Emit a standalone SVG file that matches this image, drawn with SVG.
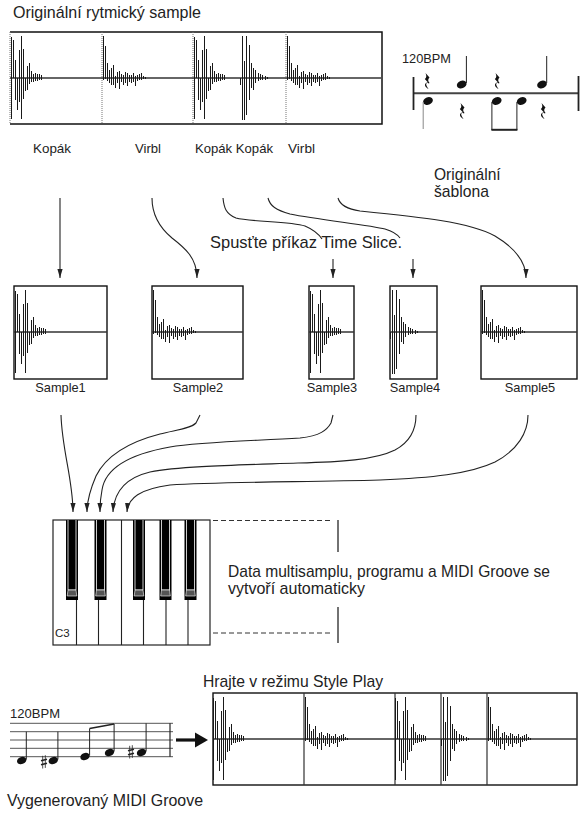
<svg xmlns="http://www.w3.org/2000/svg" xmlns:xlink="http://www.w3.org/1999/xlink" width="581" height="814" viewBox="0 0 581 814">
<style>
text{font-family:"Liberation Sans",Arial,sans-serif;fill:#222}
.t16{font-size:15.7px}
.t13{font-size:13.5px}
.t12{font-size:12.8px}
.wave{fill:none;stroke:#1a1a1a;stroke-width:1;shape-rendering:crispEdges}
.frame{fill:#fff;stroke:#111;stroke-width:1.4}
.mid{stroke:#333;stroke-width:1.4}
.dot{stroke:#777;stroke-width:1;stroke-dasharray:1 1;fill:none}
.con{fill:none;stroke:#222;stroke-width:1.1}
.stem{stroke:#222;stroke-width:1}
</style>
<defs>
<marker id="ah" markerUnits="userSpaceOnUse" markerWidth="10" markerHeight="7" refX="9" refY="3" orient="auto">
<path d="M0 0.4 L9 3 L0 5.6 Z" fill="#222"/>
</marker>
<path id="kickA" class="wave" d="M0.5 -41V41 M2.5 -38V0 M4.5 -18V22 M6.5 0V32 M8.5 -28V24 M10.5 -42V41 M12.5 -29V21 M14.5 0V13 M16.5 -12V12 M18.5 -15V6 M20.5 -7V4 M22.5 -4V4 M24.5 -5V3 M26.5 -4V3 M28.5 -4V2 M30.5 -3V2"/>
<path id="kickB" class="wave" d="M0.5 0V7 M2.5 -42V42 M4.5 -17V42 M6.5 -42V37 M9.5 -33V22 M11.5 -15V10 M13.5 -10V12 M15.5 -8V5 M18.5 -5V3 M20.5 -4V2 M22.5 -3V2 M25.5 -2V2 M27.5 -1V1"/>
<path id="snare" class="wave" d="M1.5 -42V2 M3.5 -32V1 M5.5 -15V3 M7.5 -8V5 M9.5 -10V7 M11.5 -13V7 M13.5 -2V10 M15.5 -6V5 M17.5 -7V11 M19.5 -4V4 M21.5 -3V7 M23.5 -6V5 M25.5 -5V8 M27.5 -3V4 M29.5 -3V5 M31.5 -5V4 M33.5 -2V8 M35.5 -3V3 M37.5 -4V2 M39.5 -5V2 M41.5 -2V1 M43.5 -1V1"/>
<path id="rest" fill="#111" d="M1.5 0 L5.5 4.5 C4 6 3.5 7.5 5.5 10 L4.8 10.5 C3 9.5 1.5 10 2.5 12.5 C3 14 4 15 4.5 16 C2 14.5 0 12.5 1.5 10.5 C2.2 9.5 3.2 9.3 4 9.6 L0.8 6 C2.5 4.8 2.8 3.2 1.5 0 Z"/>
<g id="sharp" stroke="#222" fill="none">
<path d="M-1.3 -6.2V6.5 M1.3 -6.8V5.9" stroke-width="0.8"/>
<path d="M-3 -1.2 L3 -2.8 M-3 2.8 L3 1.2" stroke-width="1.7"/>
</g>
<g id="bk">
<rect x="0" y="0" width="12" height="80" fill="#000"/>
<path d="M2 0 V70 H10 V0" fill="none" stroke="#fff" stroke-width="0.8"/>
<path d="M2 70 L1.2 76 H10.8 L10 70 Z" fill="#555" stroke="#fff" stroke-width="0.6"/>
</g>
</defs>

<rect width="581" height="814" fill="#fff"/>

<g id="original-sample">
<text class="t16" x="13" y="18" textLength="188" lengthAdjust="spacingAndGlyphs">Originální rytmický sample</text>
<rect x="10" y="32" width="372" height="92" fill="#fff"/>
<path d="M10 32 H382 V124 H10" fill="none" stroke="#111" stroke-width="1.5"/>
<path class="dot" d="M10 32 V124 M102 32 V124 M193 32 V124 M286 32 V124"/>
<line class="mid" x1="10" y1="78" x2="381" y2="78"/>
<use xlink:href="#kickA" x="11" y="78"/>
<use xlink:href="#snare" x="102" y="78"/>
<use xlink:href="#kickA" x="194" y="78"/>
<use xlink:href="#kickB" x="240" y="78"/>
<use xlink:href="#snare" x="286" y="78"/>
<text class="t13" x="33" y="152.5" textLength="38" lengthAdjust="spacingAndGlyphs">Kopák</text>
<text class="t13" x="135" y="152.5" textLength="26" lengthAdjust="spacingAndGlyphs">Virbl</text>
<text class="t13" x="195" y="152.5" textLength="78" lengthAdjust="spacingAndGlyphs">Kopák Kopák</text>
<text class="t13" x="288" y="152.5" textLength="27" lengthAdjust="spacingAndGlyphs">Virbl</text>
</g>

<g id="original-pattern">
<text class="t12" x="402" y="63" textLength="49" lengthAdjust="spacingAndGlyphs">120BPM</text>
<line x1="413" y1="93.3" x2="579" y2="93.3" stroke="#444" stroke-width="2"/>
<line x1="413.5" y1="77" x2="413.5" y2="110" stroke="#222" stroke-width="1.8"/>
<line x1="578.5" y1="76" x2="578.5" y2="111" stroke="#222" stroke-width="1.8"/>
<use xlink:href="#rest" x="424" y="73"/>
<use xlink:href="#rest" x="494" y="73"/>
<use xlink:href="#rest" x="459" y="103"/>
<use xlink:href="#rest" x="540" y="103"/>
<ellipse cx="461.7" cy="84.5" rx="5" ry="3.7" transform="rotate(-20 461.7 84.5)" fill="#111"/>
<line class="stem" x1="466.4" y1="83" x2="466.4" y2="56"/>
<ellipse cx="542" cy="84.5" rx="5" ry="3.7" transform="rotate(-20 542 84.5)" fill="#111"/>
<line class="stem" x1="546.7" y1="83" x2="546.7" y2="56"/>
<ellipse cx="428" cy="101" rx="5" ry="3.7" transform="rotate(-20 428 101)" fill="#111"/>
<line x1="423.2" y1="102" x2="423.2" y2="129" stroke="#888" stroke-width="1"/>
<ellipse cx="496.7" cy="101" rx="5" ry="3.7" transform="rotate(-20 496.7 101)" fill="#111"/>
<ellipse cx="521.7" cy="101" rx="5" ry="3.7" transform="rotate(-20 521.7 101)" fill="#111"/>
<path d="M491.9 102 V130 M516.9 102 V130" stroke="#222" stroke-width="1"/>
<line x1="491.4" y1="129.8" x2="517.4" y2="129.8" stroke="#222" stroke-width="2"/>
<text class="t16" x="434" y="180" textLength="66.7" lengthAdjust="spacingAndGlyphs">Originální</text>
<text class="t16" x="434" y="197" textLength="55" lengthAdjust="spacingAndGlyphs">šablona</text>
</g>

<g id="time-slice-label">
<text class="t16" x="210" y="248" textLength="192" lengthAdjust="spacingAndGlyphs">Spusťte příkaz Time Slice.</text>
</g>

<g id="sample1">
<rect class="frame" x="14" y="286" width="93" height="93"/>
<line class="mid" x1="14" y1="332" x2="107" y2="332"/>
<use xlink:href="#kickA" x="15" y="332"/>
<text class="t12" x="60.5" y="392" text-anchor="middle">Sample1</text>
</g>
<g id="sample2">
<rect class="frame" x="152" y="286" width="91" height="93"/>
<line class="mid" x1="152" y1="332" x2="243" y2="332"/>
<use xlink:href="#snare" x="152" y="332"/>
<text class="t12" x="198" y="392" text-anchor="middle">Sample2</text>
</g>
<g id="sample3">
<rect class="frame" x="309" y="286" width="45" height="93"/>
<line class="mid" x1="309" y1="332" x2="354" y2="332"/>
<use xlink:href="#kickA" x="310" y="332"/>
<text class="t12" x="332" y="392" text-anchor="middle">Sample3</text>
</g>
<g id="sample4">
<rect class="frame" x="390" y="286" width="47" height="93"/>
<line class="mid" x1="390" y1="332" x2="437" y2="332"/>
<use xlink:href="#kickB" x="390" y="332"/>
<text class="t12" x="415" y="392" text-anchor="middle">Sample4</text>
</g>
<g id="sample5">
<rect class="frame" x="481" y="286" width="96" height="93"/>
<line class="mid" x1="481" y1="332" x2="577" y2="332"/>
<use xlink:href="#snare" x="481" y="332"/>
<text class="t12" x="530" y="392" text-anchor="middle">Sample5</text>
</g>

<g id="keyboard">
<rect x="53" y="520" width="157" height="125" fill="#fff" stroke="#222" stroke-width="1.2"/>
<path d="M76.5 520V645 M98.5 520V645 M121.5 520V645 M143.5 520V645 M166 520V645 M188 520V645" stroke="#222" stroke-width="1.1"/>
<use xlink:href="#bk" x="66" y="520"/>
<use xlink:href="#bk" x="94.5" y="520"/>
<use xlink:href="#bk" x="133" y="520"/>
<use xlink:href="#bk" x="159.5" y="520"/>
<use xlink:href="#bk" x="184.5" y="520"/>
<text x="55" y="636.5" font-size="11.5px">C3</text>
</g>

<g id="auto-info">
<path d="M213 520.5 H330 M213 633 H330" stroke="#333" stroke-width="1" stroke-dasharray="5 3" fill="none"/>
<path d="M338 520 V552 M338 607 V643" stroke="#444" stroke-width="1.5"/>
<text class="t16" x="228" y="577" textLength="322" lengthAdjust="spacingAndGlyphs">Data multisamplu, programu a MIDI Groove se</text>
<text class="t16" x="228" y="594" textLength="137" lengthAdjust="spacingAndGlyphs">vytvoří automaticky</text>
</g>

<g id="midi-groove">
<text class="t12" x="10" y="718" textLength="50" lengthAdjust="spacingAndGlyphs">120BPM</text>
<path d="M10 723.3 H173 M10 731.7 H173 M10 740 H173 M10 748.3 H173 M10 756.7 H173" stroke="#555" stroke-width="1"/>
<line x1="170" y1="723.3" x2="170" y2="756.7" stroke="#222" stroke-width="1.2"/>
<ellipse cx="21.7" cy="760.5" rx="4.8" ry="3.5" transform="rotate(-20 21.7 760.5)" fill="#111"/>
<line class="stem" x1="26.3" y1="759.5" x2="26.3" y2="731.7"/>
<use xlink:href="#sharp" x="44" y="762"/>
<ellipse cx="53.3" cy="760.5" rx="4.8" ry="3.5" transform="rotate(-20 53.3 760.5)" fill="#111"/>
<line class="stem" x1="57.9" y1="759.5" x2="57.9" y2="731.7"/>
<ellipse cx="85" cy="756.5" rx="4.8" ry="3.5" transform="rotate(-20 85 756.5)" fill="#111"/>
<line class="stem" x1="89.6" y1="755.5" x2="89.6" y2="728.5"/>
<ellipse cx="109.5" cy="752.5" rx="4.8" ry="3.5" transform="rotate(-20 109.5 752.5)" fill="#111"/>
<line class="stem" x1="114.1" y1="751.5" x2="114.1" y2="724"/>
<line x1="89.6" y1="728.5" x2="114.1" y2="724" stroke="#222" stroke-width="1.6"/>
<use xlink:href="#sharp" x="131" y="752"/>
<ellipse cx="141.5" cy="752.5" rx="4.8" ry="3.5" transform="rotate(-20 141.5 752.5)" fill="#111"/>
<line class="stem" x1="146.1" y1="751.5" x2="146.1" y2="723.3"/>
<text class="t16" x="7" y="806" textLength="196" lengthAdjust="spacingAndGlyphs">Vygenerovaný MIDI Groove</text>
</g>

<g id="style-play">
<text class="t16" x="203" y="687" textLength="180" lengthAdjust="spacingAndGlyphs">Hrajte v režimu Style Play</text>
<rect class="frame" x="213" y="693" width="364" height="92"/>
<path d="M304 693V785 M395 693V785 M441 693V785 M487 693V785" stroke="#333" stroke-width="1.2"/>
<line class="mid" x1="213" y1="739" x2="577" y2="739"/>
<use xlink:href="#kickA" x="213" y="739"/>
<use xlink:href="#snare" x="304" y="739"/>
<use xlink:href="#kickA" x="395" y="739"/>
<use xlink:href="#kickB" x="441" y="739"/>
<use xlink:href="#snare" x="487" y="739"/>
</g>

<g id="connectors">
<path class="con" d="M60 198 V278" marker-end="url(#ah)"/>
<path class="con" d="M152 198 C152 215 160 228 172 238 C185 248 197 258 197 278" marker-end="url(#ah)"/>
<path class="con" d="M223 198 C224 208 226 214 236 218 C250 222 290 221 305 226 C312 229 318 233 322 239"/>
<path class="con" d="M268 198 C270 206 276 210 290 214 C320 220 370 225 385 229 C392 231 397 234 400 238"/>
<path class="con" d="M338 198 C340 205 346 209 360 211 C420 217 470 222 495 236 C515 248 526 262 526 278" marker-end="url(#ah)"/>
<path class="con" d="M333 259 V278" marker-end="url(#ah)"/>
<path class="con" d="M413 259 V278" marker-end="url(#ah)"/>
<path class="con" d="M61 415 C62 450 73 480 73 512" marker-end="url(#ah)"/>
<path class="con" d="M200 415 L196 423 C190 429 175 430 160 434 C125 443 105 458 96 476 C90 490 87 500 87 512" marker-end="url(#ah)"/>
<path class="con" d="M333 415 L331 423 C327 430 320 436 300 438 C250 441 200 442 170 447 C125 455 105 470 102 490 C100 500 100 505 100 512" marker-end="url(#ah)"/>
<path class="con" d="M416 415 C416 430 410 442 395 450 C375 460 340 462 298 463 C240 465 180 466 150 472 C125 478 114 492 113 512" marker-end="url(#ah)"/>
<path class="con" d="M528 415 C528 432 518 450 495 462 C470 474 430 478 380 480 C300 482 220 482 170 485 C140 489 128 498 127 512" marker-end="url(#ah)"/>
<line x1="176" y1="740" x2="197" y2="740" stroke="#111" stroke-width="3.2"/>
<path d="M195 732.5 L208 740 L195 747.5 Z" fill="#111"/>
</g>
</svg>
